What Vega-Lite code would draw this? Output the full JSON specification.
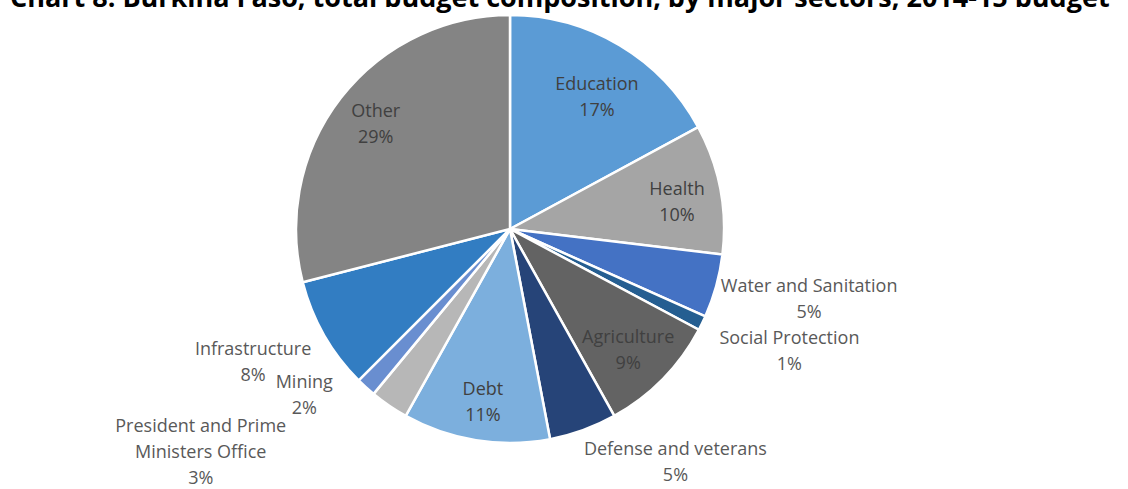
{
  "$schema": "https://vega.github.io/schema/vega-lite/v6.json",
  "autosize": "none",
  "width": 1020,
  "height": 520,
  "padding": {"left": 0, "top": -31, "right": 108, "bottom": 0},
  "background": "white",
  "title": {
    "text": "Chart 8: Burkina Faso, total budget composition, by major sectors, 2014-15 budget",
    "anchor": "start",
    "dx": 10,
    "offset": -44,
    "font": "Open Sans",
    "fontSize": 27,
    "fontWeight": "bold",
    "color": "#000000"
  },
  "data": {
    "values": [
      {"sector": "Education", "share": 17.1, "label": "Education\n17%"},
      {"sector": "Health", "share": 9.8, "label": "Health\n10%"},
      {"sector": "Water and Sanitation", "share": 4.8, "label": "Water and Sanitation\n5%"},
      {"sector": "Social Protection", "share": 1.1, "label": "Social Protection\n1%"},
      {"sector": "Agriculture", "share": 9.1, "label": "Agriculture\n9%"},
      {"sector": "Defense and veterans", "share": 5.1, "label": "Defense and veterans\n5%"},
      {"sector": "Debt", "share": 11.1, "label": "Debt\n11%"},
      {"sector": "President and Prime Ministers Office", "share": 2.9, "label": "President and Prime\nMinisters Office\n3%"},
      {"sector": "Mining", "share": 1.5, "label": "Mining\n2%"},
      {"sector": "Infrastructure", "share": 8.5, "label": "Infrastructure\n8%"},
      {"sector": "Other", "share": 29.0, "label": "Other\n29%"}
    ]
  },
  "transform": [{"window": [{"op": "row_number", "as": "rank"}]}],
  "encoding": {
    "theta": {"field": "share", "type": "quantitative", "stack": true},
    "order": {"field": "rank", "type": "quantitative"}
  },
  "layer": [
    {
      "mark": {"type": "arc", "outerRadius": 214, "stroke": "white", "strokeWidth": 2.5},
      "encoding": {
        "color": {
          "field": "sector",
          "type": "nominal",
          "legend": null,
          "scale": {
            "domain": ["Education", "Health", "Water and Sanitation", "Social Protection", "Agriculture", "Defense and veterans", "Debt", "President and Prime Ministers Office", "Mining", "Infrastructure", "Other"],
            "range": ["#5B9BD5", "#A5A5A5", "#4472C4", "#255E91", "#636363", "#264478", "#7CAFDD", "#B7B7B7", "#698ED0", "#327DC2", "#848484"]
          }
        }
      }
    },
    {
      "mark": {"type": "text", "clip": true, "radius": 170, "font": "Open Sans", "fontSize": 18, "lineHeight": 26, "lineBreak": "\n", "color": "#404040", "baseline": "middle", "dy": -7},
      "encoding": {
        "text": {"condition": {"test": "indexof(['Health','Debt'], datum.sector) >= 0", "field": "label"}, "value": ""}
      }
    },
    {
      "mark": {"type": "text", "clip": true, "radius": 170, "font": "Open Sans", "fontSize": 18, "lineHeight": 26, "lineBreak": "\n", "color": "#404040", "baseline": "middle", "dy": -13},
      "encoding": {
        "text": {"condition": {"test": "datum.sector === 'Other'", "field": "label"}, "value": ""}
      }
    },
    {
      "mark": {"type": "text", "clip": true, "radius": 160, "font": "Open Sans", "fontSize": 18, "lineHeight": 26, "lineBreak": "\n", "color": "#404040", "baseline": "middle", "dx": 5, "dy": -7},
      "encoding": {
        "text": {"condition": {"test": "datum.sector === 'Education'", "field": "label"}, "value": ""}
      }
    },
    {
      "mark": {"type": "text", "clip": true, "radius": 160, "font": "Open Sans", "fontSize": 18, "lineHeight": 26, "lineBreak": "\n", "color": "#404040", "baseline": "middle", "dx": 4, "dy": -3},
      "encoding": {
        "text": {"condition": {"test": "datum.sector === 'Agriculture'", "field": "label"}, "value": ""}
      }
    },
    {
      "mark": {"type": "text", "clip": true, "radius": 300, "font": "Open Sans", "fontSize": 18, "lineHeight": 26, "lineBreak": "\n", "color": "#595959", "baseline": "middle", "dx": 10, "dy": -22},
      "encoding": {
        "text": {"condition": {"test": "indexof(['Water and Sanitation','Social Protection'], datum.sector) >= 0", "field": "label"}, "value": ""}
      }
    },
    {
      "mark": {"type": "text", "clip": true, "radius": 290, "font": "Open Sans", "fontSize": 18, "lineHeight": 26, "lineBreak": "\n", "color": "#595959", "baseline": "middle", "dx": -5, "dy": -23},
      "encoding": {
        "text": {"condition": {"test": "datum.sector === 'Infrastructure'", "field": "label"}, "value": ""}
      }
    },
    {
      "mark": {"type": "text", "clip": true, "radius": 250, "font": "Open Sans", "fontSize": 18, "lineHeight": 26, "lineBreak": "\n", "color": "#595959", "baseline": "middle", "dx": 80, "dy": -14},
      "encoding": {
        "text": {"condition": {"test": "datum.sector === 'Defense and veterans'", "field": "label"}, "value": ""}
      }
    },
    {
      "mark": {"type": "text", "clip": true, "radius": 227, "font": "Open Sans", "fontSize": 18, "lineHeight": 26, "lineBreak": "\n", "color": "#595959", "baseline": "middle", "dx": -53, "dy": -14},
      "encoding": {
        "text": {"condition": {"test": "datum.sector === 'Mining'", "field": "label"}, "value": ""}
      }
    },
    {
      "mark": {"type": "text", "clip": true, "radius": 275, "font": "Open Sans", "fontSize": 18, "lineHeight": 26, "lineBreak": "\n", "color": "#595959", "baseline": "middle", "dx": -154, "dy": -29},
      "encoding": {
        "text": {"condition": {"test": "datum.sector === 'President and Prime Ministers Office'", "field": "label"}, "value": ""}
      }
    }
  ]
}
